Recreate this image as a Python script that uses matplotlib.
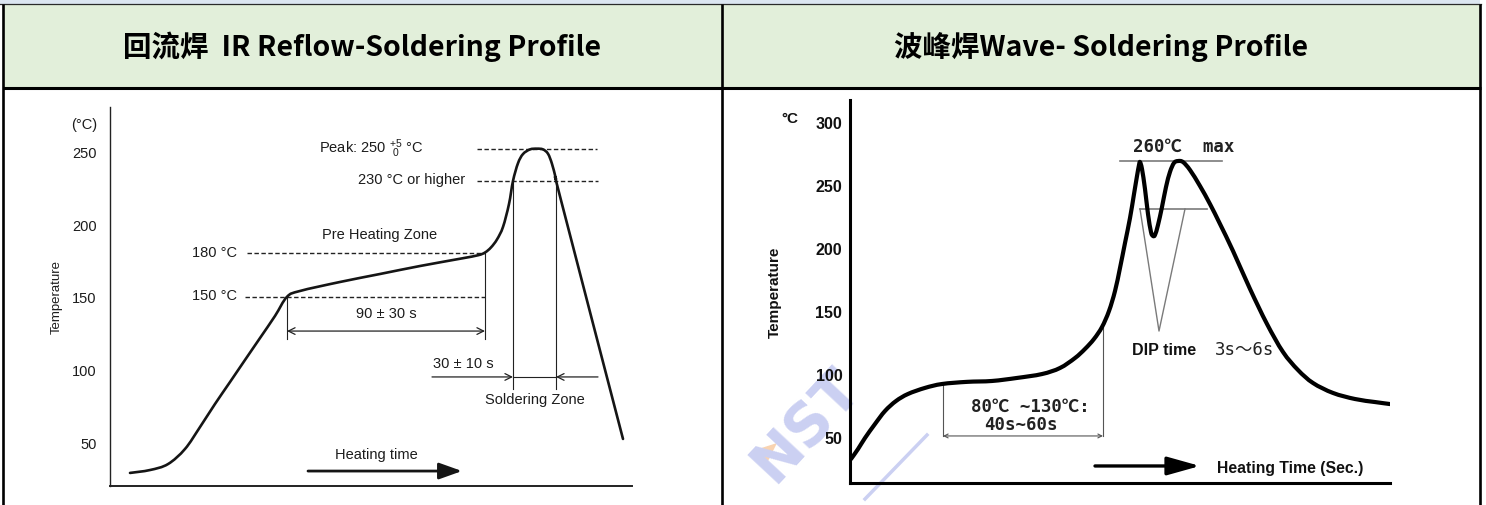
import matplotlib
matplotlib.use("Agg")
import matplotlib.pyplot as plt
from matplotlib.patches import Rectangle, PathPatch, Polygon
from matplotlib.path import Path

# ---------------- data ----------------
header_titles = ["回流焊  IR Reflow-Soldering Profile", "波峰焊Wave- Soldering Profile"]

# IR reflow profile (time in arbitrary units, temperature in °C)
reflow_time = [20, 40, 58, 75, 90, 105, 120, 135, 150, 165, 177, 190, 230, 270, 310,
               350, 368, 375, 381, 387, 393, 399, 403, 408, 413, 420, 427, 433, 438,
               442, 446, 451, 513]
reflow_temp = [28.7, 30.7, 34.8, 45.2, 60.3, 76.2, 91.3, 106.5, 121.6, 136.8, 150.0,
               154.0, 160.2, 165.7, 171.2, 176.2, 178.6, 180.5, 184.0, 189.5, 198.1,
               213.9, 229.8, 242.0, 248.3, 251.5, 252.0, 251.5, 248.5, 241.5, 231.0,
               216.5, 52.1]
reflow_yticks = [50, 100, 150, 200, 250]
reflow_peak, reflow_solder, reflow_pre_hi, reflow_pre_lo = 252, 230, 180, 150
reflow_pre_start, reflow_pre_end = 177, 375
reflow_sol_start, reflow_sol_end = 403, 446

# Wave soldering profile
wave_time = [1, 8, 15, 25, 35, 46, 58, 75, 92, 117, 142, 167, 192, 210, 225, 235, 244,
             252, 259, 265, 270, 275, 280, 284, 287, 289, 290, 292, 295, 298, 301, 303,
             305, 308, 312, 316, 320, 324, 328, 333, 340, 350, 360, 370, 383, 400, 417,
             433, 448, 463, 483, 505, 525, 540]
wave_temp = [32.4, 40.3, 49.1, 60.2, 70.5, 78.4, 84.0, 88.8, 91.9, 93.6, 94.3, 96.7,
             99.8, 104.6, 112.5, 119.7, 127.6, 137.1, 149.8, 165.6, 183.9, 203.7, 223.5,
             242.5, 256.8, 265.5, 267.9, 262.4, 246.5, 226.7, 212.4, 209.3, 210.1, 218.0,
             232.3, 248.1, 260.1, 267.2, 268.7, 267.9, 261.6, 248.9, 234.6, 218.8, 197.4,
             167.3, 139.5, 117.3, 103.0, 92.7, 84.8, 80.0, 77.6, 76.0]
wave_yticks = [50, 100, 150, 200, 250, 300]
wave_max_level, wave_dip_level = 268.7, 230.7
wave_pre_start, wave_pre_end = 93, 253

# ---------------- figure ----------------
W, H = 1486, 506
fig = plt.figure(figsize=(W / 100, H / 100), dpi=100)
fig.patch.set_facecolor("white")


def px_axes(x0, y0, x1, y1, z=1):
    ax = fig.add_axes([x0 / W, 1 - y1 / H, (x1 - x0) / W, (y1 - y0) / H])
    ax.set_zorder(z)
    ax.patch.set_alpha(0)
    return ax


def smooth_line(ax, xs, ys, **kw):
    """Draw a smooth curve through the points (Catmull-Rom as cubic Bezier)."""
    pts = list(zip(xs, ys))
    n = len(pts)
    verts = [pts[0]]
    codes = [Path.MOVETO]
    for i in range(n - 1):
        p0 = pts[i - 1] if i > 0 else pts[i]
        p1 = pts[i]
        p2 = pts[i + 1]
        p3 = pts[i + 2] if i + 2 < n else pts[i + 1]
        c1 = (p1[0] + (p2[0] - p0[0]) / 6, p1[1] + (p2[1] - p0[1]) / 6)
        c2 = (p2[0] - (p3[0] - p1[0]) / 6, p2[1] - (p3[1] - p1[1]) / 6)
        verts += [c1, c2, p2]
        codes += [Path.CURVE4] * 3
    patch = PathPatch(Path(verts, codes), fill=False, **kw)
    ax.add_patch(patch)
    return patch


# table frame
bg = px_axes(0, 0, W, H, z=0)
bg.set_xlim(0, W)
bg.set_ylim(H, 0)
bg.axis("off")
bg.add_patch(Rectangle((0, 0), 1480, 5, fc="#dce6f1", ec="none"))
bg.add_patch(Rectangle((3, 5), 1477, 84, fc="#e2efda", ec="none"))
bg.plot([0, 1481], [5, 5], color="#2a2a2a", lw=0.9)
bg.plot([3, 1481], [89, 89], color="black", lw=2.2, solid_capstyle="butt")
for xv in (3, 722, 1480):
    bg.plot([xv, xv], [5, H], color="black", lw=1.9, solid_capstyle="butt")

CJK = ["Noto Sans CJK SC", "DejaVu Sans"]
bg.text(362, 47, header_titles[0], ha="center", va="center", fontsize=20.5,
        fontweight="bold", family=CJK)
bg.text(1101, 47, header_titles[1], ha="center", va="center", fontsize=20.5,
        fontweight="bold", family=CJK)

# watermark (faint)
bg.add_patch(Polygon([(752, 452), (777, 444), (764, 470)], closed=True,
                     fc="#f9d3b0", ec="none", zorder=0.4))
bg.text(806, 425, "NST", ha="center", va="center", fontsize=42,
        fontweight="bold", color="#cbd0f2", rotation=47, family="DejaVu Sans",
        zorder=0.5)
bg.plot([927, 865], [436, 500], color="#cbd0f2", lw=2.5, zorder=0.5)

# ---------------- left chart: IR reflow ----------------
SANS = "Liberation Sans"
TXT = "#1c1c1c"
axL = px_axes(110, 108, 632, 487)
axL.set_xlim(0, 522)
axL.set_ylim(19.7, 280.7)
for s in ("top", "right"):
    axL.spines[s].set_visible(False)
axL.spines["left"].set_linewidth(1.0)
axL.spines["bottom"].set_linewidth(1.4)
axL.spines["left"].set_color("#222")
axL.spines["bottom"].set_color("#222")
axL.set_xticks([])
axL.set_yticks(reflow_yticks)
axL.set_yticklabels([str(v) for v in reflow_yticks], family=SANS, fontsize=10.5, color=TXT)
axL.tick_params(axis="y", length=0, pad=9.5)

smooth_line(axL, reflow_time, reflow_temp, ec="#151515", lw=1.9, joinstyle="round",
            capstyle="round", zorder=3)

dash = dict(color="#222", lw=1.0, ls=(0, (3.2, 1.8)))
axL.plot([367, 487], [reflow_peak] * 2, **dash)
axL.plot([367, 488], [reflow_solder] * 2, **dash)
axL.plot([137, reflow_pre_end], [reflow_pre_hi] * 2, **dash)
axL.plot([135, reflow_pre_end], [reflow_pre_lo] * 2, **dash)

thin = dict(color="#222", lw=0.8)
axL.plot([reflow_pre_start] * 2, [reflow_pre_lo, 120.9], **thin)
axL.plot([reflow_pre_end] * 2, [reflow_pre_hi, 120.9], **thin)
axL.plot([reflow_sol_start] * 2, [reflow_solder, 86.5], **thin)
axL.plot([reflow_sol_end] * 2, [reflow_solder, 86.5], **thin)

axL.annotate("", xy=(reflow_pre_start, 126.4), xytext=(reflow_pre_end, 126.4),
             arrowprops=dict(arrowstyle="<->", lw=0.9, color="#222",
                             shrinkA=0, shrinkB=0, mutation_scale=12))
axL.annotate("", xy=(reflow_sol_start, 94.8), xytext=(322, 94.8),
             arrowprops=dict(arrowstyle="->", lw=0.9, color="#222",
                             shrinkA=0, shrinkB=0, mutation_scale=12))
axL.plot([reflow_sol_start, reflow_sol_end], [94.8, 94.8], **thin)
axL.annotate("", xy=(reflow_sol_end, 94.8), xytext=(488, 94.8),
             arrowprops=dict(arrowstyle="->", lw=0.9, color="#222",
                             shrinkA=0, shrinkB=0, mutation_scale=12))
axL.annotate("", xy=(352, 30.0), xytext=(198, 30.0),
             arrowprops=dict(arrowstyle="-|>,head_length=0.7,head_width=0.25",
                             lw=2.0, color="#151515", shrinkA=0, shrinkB=0,
                             mutation_scale=20))

tk = dict(family=SANS, fontsize=10.5, color=TXT, va="center")
axL.text(313, 253, r"Peak: 250 $\mathregular{^{+5}_{\ 0}}$ °C", ha="right", **tk)
axL.text(355, 231, "230 °C or higher", ha="right", **tk)
axL.text(270, 193.5, "Pre Heating Zone", ha="center", **tk)
axL.text(127, 181, "180 °C", ha="right", **tk)
axL.text(127, 151, "150 °C", ha="right", **tk)
axL.text(276, 138.8, "90 ± 30 s", ha="center", **tk)
axL.text(353, 104.5, "30 ± 10 s", ha="center", **tk)
axL.text(425, 79.6, "Soldering Zone", ha="center", **tk)
axL.text(266, 41.7, "Heating time", ha="center", **tk)
axL.text(-13, 269.0, "(°C)", ha="right", clip_on=False, **tk)
axL.text(-53, 150.5, "Temperature", ha="center", rotation=90, family=SANS,
         fontsize=9.5, color=TXT, va="center", clip_on=False)

# ---------------- right chart: wave soldering ----------------
MONO = ["DejaVu Sans Mono", "Noto Sans CJK SC", "DejaVu Sans"]
axR = px_axes(850, 101, 1390, 484)
axR.set_xlim(0, 540)
axR.set_ylim(13.4, 317.1)
for s in ("top", "right"):
    axR.spines[s].set_visible(False)
axR.spines["left"].set_linewidth(2.2)
axR.spines["bottom"].set_linewidth(2.2)
axR.set_xticks([])
axR.set_yticks(wave_yticks)
axR.set_yticklabels([str(v) for v in wave_yticks], family=SANS, fontsize=11.5,
                    fontweight="bold", color="#111")
axR.tick_params(axis="y", length=0, pad=5.5)

smooth_line(axR, wave_time, wave_temp, ec="black", lw=3.0, joinstyle="round",
            capstyle="round", zorder=3)

grey = dict(color="#7a7a7a", lw=1.2)
axR.plot([270, 372], [wave_max_level] * 2, **grey)
axR.plot([290, 357], [wave_dip_level] * 2, **grey)
axR.plot([290, 309, 335], [wave_dip_level, 133.9, wave_dip_level], color="#7a7a7a", lw=1.0)

bk = dict(color="#555", lw=0.8)
axR.plot([wave_pre_start] * 2, [91.5, 50.7], **bk)
axR.plot([wave_pre_end] * 2, [137.0, 50.7], **bk)
axR.annotate("", xy=(wave_pre_start, 50.7), xytext=(wave_pre_end, 50.7),
             arrowprops=dict(arrowstyle="<->", lw=0.8, color="#555",
                             shrinkA=0, shrinkB=0, mutation_scale=7))
axR.annotate("", xy=(350, 26.9), xytext=(245, 26.9),
             arrowprops=dict(arrowstyle="-|>,head_length=1.0,head_width=0.28",
                             lw=2.4, color="black", shrinkA=0, shrinkB=0,
                             mutation_scale=20))

axR.text(334, 280.6, "260℃  max", ha="center", va="center", family=MONO,
         fontsize=12.5, fontweight="bold", color="#222")
axR.text(180, 74.3, "80℃ ~130℃:", ha="center", va="center", family=MONO,
         fontsize=12.5, fontweight="bold", color="#222")
axR.text(171, 60.1, "40s~60s", ha="center", va="center", family=MONO,
         fontsize=12.5, fontweight="bold", color="#222")
axR.text(314.5, 119.6, "DIP time", ha="center", va="center", family=SANS,
         fontsize=11.5, fontweight="bold", color="#111")
axR.text(394.5, 119.6, "3s～6s", ha="center", va="center", family=MONO,
         fontsize=12.5, color="#222")
axR.text(367, 25.3, "Heating Time (Sec.)", ha="left", va="center", family=SANS,
         fontsize=11.3, fontweight="bold", color="#111")
axR.text(-60, 302.8, "°C", ha="center", va="center", family=SANS, fontsize=11,
         fontweight="bold", color="#111", clip_on=False)
axR.text(-75, 165.6, "Temperature", ha="center", va="center", rotation=90,
         family=SANS, fontsize=11, fontweight="bold", color="#111", clip_on=False)

fig.savefig("out.png", dpi=100, facecolor="white")
